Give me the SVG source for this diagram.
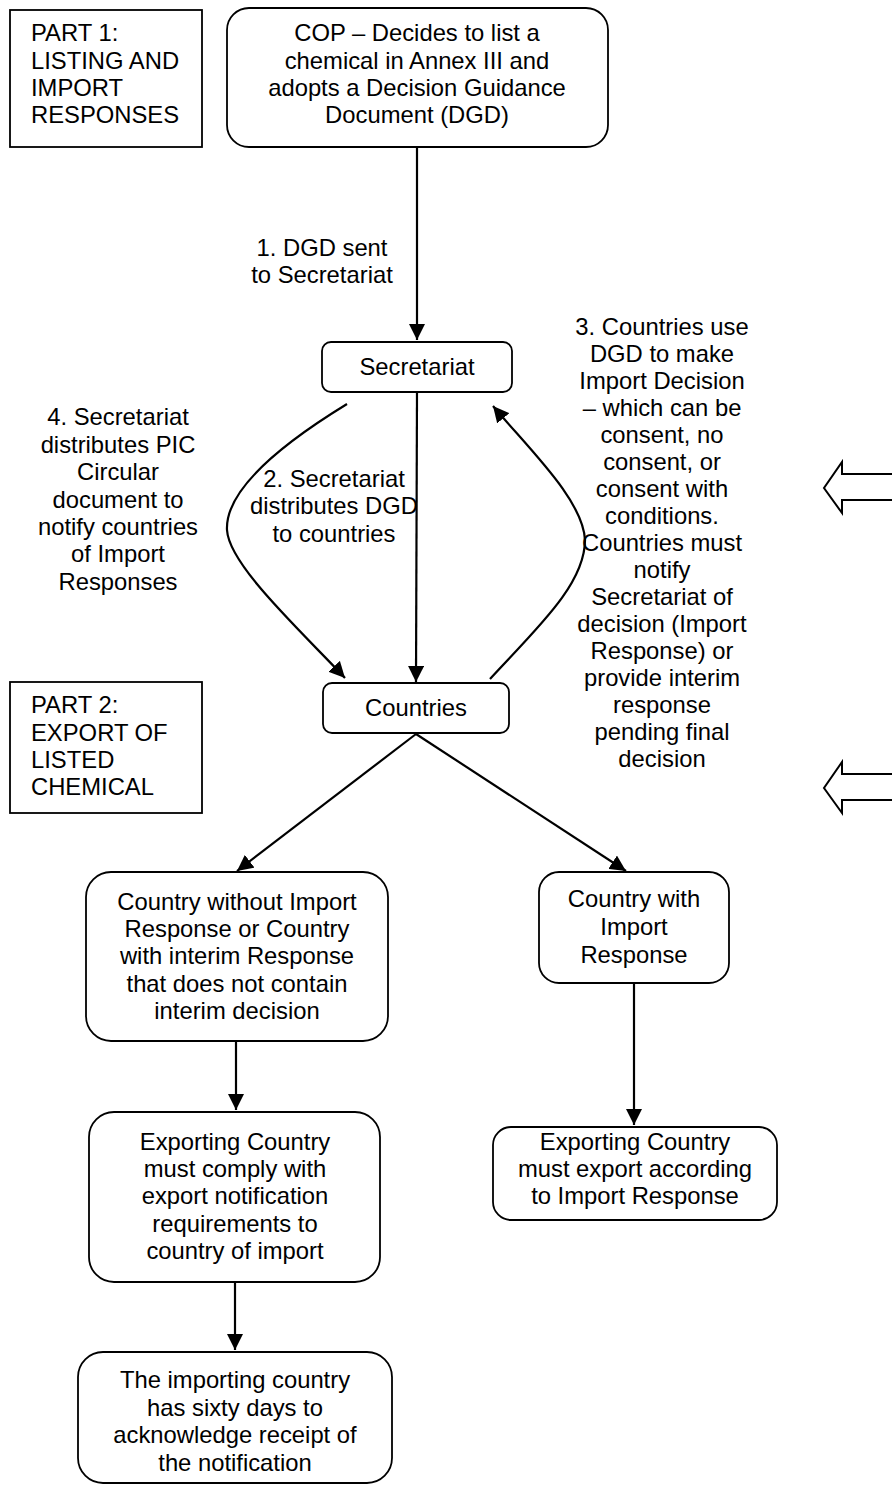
<svg xmlns="http://www.w3.org/2000/svg" width="892" height="1488" viewBox="0 0 892 1488">
<style>
text{font-family:"Liberation Sans",Arial,sans-serif;font-size:23.8px;fill:#000}
.c{text-anchor:middle}
.box{fill:#fff;stroke:#000;stroke-width:1.8}
.ln{fill:none;stroke:#000;stroke-width:2.2}
.big{fill:#fff;stroke:#000;stroke-width:2}
</style>
<defs>
<marker id="ah" markerUnits="userSpaceOnUse" markerWidth="16" markerHeight="16" viewBox="0 0 15 15" refX="15" refY="7.5" orient="auto">
<path d="M0,0 L15,7.5 L0,15 z" fill="#000"/>
</marker>
</defs>
<rect width="892" height="1488" fill="#fff"/>

<g id="part1">
<rect class="box" x="10" y="10" width="192" height="137"/>
<text x="31" y="41">PART 1:</text>
<text x="31" y="69">LISTING AND</text>
<text x="31" y="96">IMPORT</text>
<text x="31" y="123">RESPONSES</text>
</g>

<g id="part2">
<rect class="box" x="10" y="682" width="192" height="131"/>
<text x="31" y="713">PART 2:</text>
<text x="31" y="741">EXPORT OF</text>
<text x="31" y="768">LISTED</text>
<text x="31" y="795">CHEMICAL</text>
</g>

<g id="cop">
<rect class="box" x="227" y="8" width="381" height="139" rx="22"/>
<text class="c" x="417" y="41">COP – Decides to list a</text>
<text class="c" x="417" y="69">chemical in Annex III and</text>
<text class="c" x="417" y="96">adopts a Decision Guidance</text>
<text class="c" x="417" y="123">Document (DGD)</text>
</g>

<g id="secretariat">
<rect class="box" x="322" y="342" width="190" height="50" rx="9"/>
<text class="c" x="417" y="375">Secretariat</text>
</g>

<g id="countries">
<rect class="box" x="323" y="683" width="186" height="50" rx="9"/>
<text class="c" x="416" y="716">Countries</text>
</g>

<g id="no-response">
<rect class="box" x="86" y="872" width="302" height="169" rx="25"/>
<text class="c" x="237" y="910">Country without Import</text>
<text class="c" x="237" y="937">Response or Country</text>
<text class="c" x="237" y="964">with interim Response</text>
<text class="c" x="237" y="992">that does not contain</text>
<text class="c" x="237" y="1019">interim decision</text>
</g>

<g id="with-response">
<rect class="box" x="539" y="872" width="190" height="111" rx="20"/>
<text class="c" x="634" y="907">Country with</text>
<text class="c" x="634" y="935">Import</text>
<text class="c" x="634" y="963">Response</text>
</g>

<g id="export-notify">
<rect class="box" x="89" y="1112" width="291" height="170" rx="25"/>
<text class="c" x="235" y="1150">Exporting Country</text>
<text class="c" x="235" y="1177">must comply with</text>
<text class="c" x="235" y="1204">export notification</text>
<text class="c" x="235" y="1232">requirements to</text>
<text class="c" x="235" y="1259">country of import</text>
</g>

<g id="export-according">
<rect class="box" x="493" y="1127" width="284" height="93" rx="18"/>
<text class="c" x="635" y="1150">Exporting Country</text>
<text class="c" x="635" y="1177">must export according</text>
<text class="c" x="635" y="1204">to Import Response</text>
</g>

<g id="sixty-days">
<rect class="box" x="78" y="1352" width="314" height="131" rx="25"/>
<text class="c" x="235" y="1388">The importing country</text>
<text class="c" x="235" y="1416">has sixty days to</text>
<text class="c" x="235" y="1443">acknowledge receipt of</text>
<text class="c" x="235" y="1471">the notification</text>
</g>

<g id="labels">
<text class="c" x="322" y="256">1. DGD sent</text>
<text class="c" x="322" y="283">to Secretariat</text>
<text class="c" x="334" y="487">2. Secretariat</text>
<text class="c" x="334" y="514">distributes DGD</text>
<text class="c" x="334" y="542">to countries</text>
<text class="c" x="118" y="425">4. Secretariat</text>
<text class="c" x="118" y="453">distributes PIC</text>
<text class="c" x="118" y="480">Circular</text>
<text class="c" x="118" y="508">document to</text>
<text class="c" x="118" y="535">notify countries</text>
<text class="c" x="118" y="562">of Import</text>
<text class="c" x="118" y="590">Responses</text>
<text class="c" x="662" y="335">3. Countries use</text>
<text class="c" x="662" y="362">DGD to make</text>
<text class="c" x="662" y="389">Import Decision</text>
<text class="c" x="662" y="416">– which can be</text>
<text class="c" x="662" y="443">consent, no</text>
<text class="c" x="662" y="470">consent, or</text>
<text class="c" x="662" y="497">consent with</text>
<text class="c" x="662" y="524">conditions.</text>
<text class="c" x="662" y="551">Countries must</text>
<text class="c" x="662" y="578">notify</text>
<text class="c" x="662" y="605">Secretariat of</text>
<text class="c" x="662" y="632">decision (Import</text>
<text class="c" x="662" y="659">Response) or</text>
<text class="c" x="662" y="686">provide interim</text>
<text class="c" x="662" y="713">response</text>
<text class="c" x="662" y="740">pending final</text>
<text class="c" x="662" y="767">decision</text>
</g>

<g id="connectors">
<line class="ln" x1="417" y1="147" x2="417" y2="340" marker-end="url(#ah)"/>
<line class="ln" x1="417" y1="392" x2="416" y2="682" marker-end="url(#ah)"/>
<path class="ln" d="M347,404 C280,445 225,490 227,530 C229,565 300,630 345,678" marker-end="url(#ah)"/>
<path class="ln" d="M490,679 C535,630 585,585 585,540 C583,500 530,450 493,406" marker-end="url(#ah)"/>
<line class="ln" x1="416" y1="734" x2="237" y2="871" marker-end="url(#ah)"/>
<line class="ln" x1="416" y1="734" x2="626" y2="871" marker-end="url(#ah)"/>
<line class="ln" x1="236" y1="1041" x2="236" y2="1110" marker-end="url(#ah)"/>
<line class="ln" x1="235" y1="1282" x2="235" y2="1350" marker-end="url(#ah)"/>
<line class="ln" x1="634" y1="983" x2="634" y2="1125" marker-end="url(#ah)"/>
</g>

<g id="side-arrows">
<path class="big" d="M900,474 L842,474 L842,462 L824,488 L842,513 L842,500 L900,500"/>
<path class="big" d="M900,774 L842,774 L842,762 L824,788 L842,813 L842,800 L900,800"/>
</g>
</svg>
